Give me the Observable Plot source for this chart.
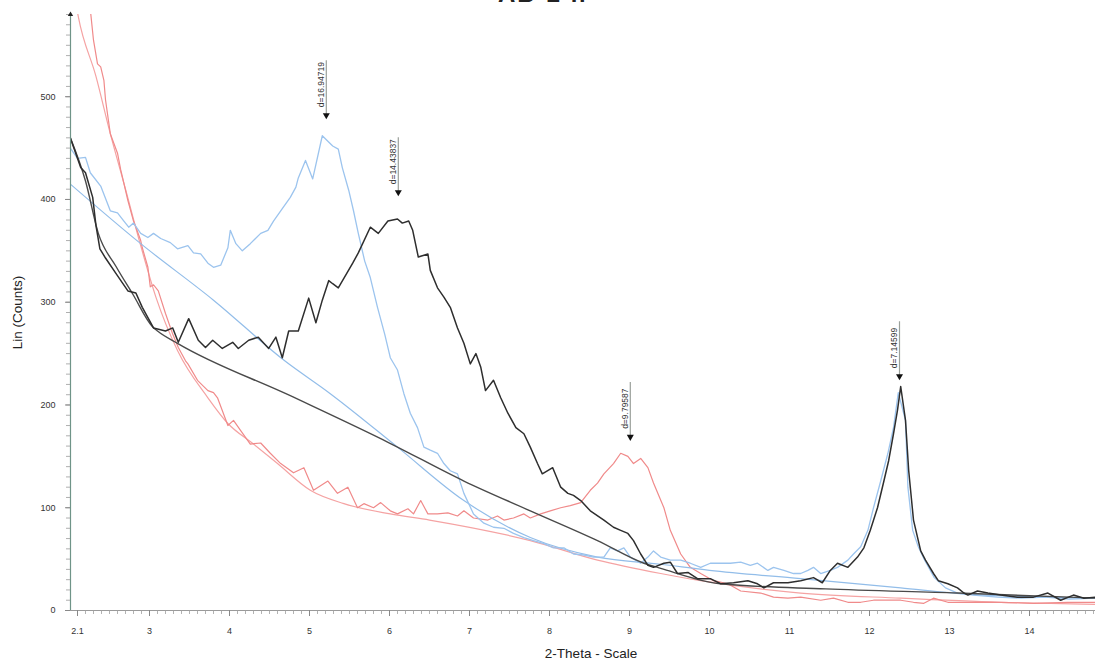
<!DOCTYPE html>
<html><head><meta charset="utf-8">
<script src="https://cdn.jsdelivr.net/npm/d3@7"></script>
<script src="https://cdn.jsdelivr.net/npm/@observablehq/plot@0.6"></script>
<style>
body{margin:0;background:#fff;overflow:hidden;}
#wrap{position:relative;width:1095px;height:666px;}
#title{position:absolute;top:-17px;left:498px;font:bold 24px "Liberation Sans",Arial,sans-serif;letter-spacing:2px;color:#222;line-height:22px;white-space:nowrap;}
</style></head>
<body><div id="wrap"><div id="title">AB-2 h</div><div id="chart"></div></div>
<script>
const title = "AB-2 h";
const xLabel = "2-Theta - Scale";
const yLabel = "Lin (Counts)";
const xTickLabels = [2.1,3,4,5,6,7,8,9,10,11,12,13,14];
const yTickLabels = [0,100,200,300,400,500];

const blackScan = [[2.01,460],[2.14,431],[2.2,426],[2.29,402],[2.33,375],[2.38,352],[2.45,343],[2.58,328],[2.73,311],[2.83,309],[2.91,295],[3.05,275],[3.2,272],[3.29,275],[3.36,261],[3.49,284],[3.61,263],[3.7,256],[3.79,263],[3.91,255],[4.04,261],[4.11,255],[4.24,263],[4.36,266],[4.49,255],[4.58,266],[4.66,246],[4.74,272],[4.86,272],[4.99,304],[5.08,280],[5.16,302],[5.24,321],[5.29,318],[5.36,314],[5.54,338],[5.61,348],[5.76,373],[5.86,367],[5.98,379],[6.1,381],[6.16,377],[6.24,379],[6.29,370],[6.36,344],[6.48,347],[6.51,331],[6.6,314],[6.68,305],[6.76,295],[6.85,275],[6.93,260],[7.01,240],[7.08,250],[7.14,237],[7.2,214],[7.3,224],[7.39,207],[7.48,192],[7.58,178],[7.68,172],[7.76,159],[7.85,143],[7.91,133],[8.04,139],[8.14,120],[8.23,114],[8.3,112],[8.39,107],[8.51,97],[8.68,88],[8.8,81],[8.89,78],[8.98,75],[9.05,68],[9.14,55],[9.23,44],[9.3,42],[9.43,46],[9.51,47],[9.6,36],[9.73,37],[9.85,31],[10.01,31],[10.14,26],[10.3,27],[10.48,29],[10.6,26],[10.68,22],[10.8,27],[10.98,27],[11.14,29],[11.3,32],[11.41,27],[11.51,39],[11.6,46],[11.73,42],[11.85,52],[11.93,61],[12.01,78],[12.1,100],[12.18,126],[12.24,146],[12.3,172],[12.35,195],[12.39,218],[12.45,185],[12.49,136],[12.55,88],[12.64,58],[12.7,49],[12.8,36],[12.86,29],[12.98,26],[13.1,22],[13.18,17],[13.23,15],[13.35,19],[13.48,17],[13.64,15],[13.85,13],[14.05,13],[14.23,17],[14.39,10],[14.55,15],[14.68,12],[14.83,13]];

const blackBackground = [[2.01,460],[2.2,418],[2.36,367],[2.58,335],[2.79,308],[3.04,276],[3.1,272],[3.35,260],[4.76,209],[6.0,163],[6.93,126],[7.76,97],[8.6,68],[9.18,46],[9.39,41],[10.14,26],[11.45,21],[13.1,17],[14.83,12]];

const blueScan = [[2.01,450],[2.1,440],[2.2,441],[2.26,426],[2.39,413],[2.51,389],[2.6,387],[2.68,379],[2.74,373],[2.8,377],[2.89,367],[2.98,363],[3.05,367],[3.14,362],[3.26,358],[3.35,352],[3.48,355],[3.55,348],[3.64,347],[3.73,338],[3.8,334],[3.89,336],[3.98,353],[4.01,370],[4.08,357],[4.16,350],[4.26,357],[4.39,367],[4.48,370],[4.55,379],[4.66,391],[4.76,402],[4.83,412],[4.86,421],[4.95,438],[5.04,420],[5.16,462],[5.29,452],[5.36,449],[5.41,431],[5.49,409],[5.55,389],[5.61,367],[5.69,340],[5.76,324],[5.85,295],[5.94,269],[6.01,246],[6.1,234],[6.18,211],[6.26,192],[6.35,178],[6.43,159],[6.51,156],[6.6,153],[6.68,143],[6.76,136],[6.85,133],[6.93,114],[7.05,94],[7.18,85],[7.3,81],[7.43,80],[7.55,75],[7.68,71],[7.8,68],[7.93,65],[8.05,61],[8.18,61],[8.3,55],[8.43,54],[8.55,52],[8.68,52],[8.76,61],[8.85,58],[8.93,61],[9.01,52],[9.14,46],[9.23,52],[9.3,58],[9.39,52],[9.51,49],[9.64,49],[9.76,46],[9.89,42],[10.01,46],[10.14,46],[10.26,46],[10.39,47],[10.51,44],[10.6,46],[10.73,39],[10.8,42],[10.93,39],[11.05,36],[11.14,36],[11.23,39],[11.3,42],[11.39,36],[11.51,39],[11.6,42],[11.73,49],[11.8,55],[11.89,62],[11.98,78],[12.05,100],[12.14,126],[12.23,153],[12.3,178],[12.36,212],[12.45,185],[12.48,120],[12.54,78],[12.61,62],[12.69,49],[12.81,32],[12.95,22],[13.1,17],[13.3,15],[13.6,13],[13.9,12],[14.2,13],[14.5,11],[14.83,12]];

const blueBackground = [[2.01,415],[2.89,357],[3.8,302],[4.69,243],[5.26,211],[6.1,159],[6.93,107],[7.76,71],[8.6,52],[9.39,45],[10.0,39],[11.14,31],[12.39,22],[13.23,16],[14.83,12]];

const redScan = [[2.24,600],[2.3,555],[2.35,532],[2.39,529],[2.43,516],[2.45,497],[2.51,464],[2.6,445],[2.64,429],[2.73,399],[2.8,379],[2.83,373],[2.89,360],[2.91,353],[2.98,334],[3.01,315],[3.05,317],[3.11,311],[3.2,289],[3.29,269],[3.36,256],[3.45,243],[3.48,240],[3.6,224],[3.73,214],[3.8,212],[3.85,207],[3.98,180],[4.05,185],[4.14,175],[4.26,162],[4.39,163],[4.51,153],[4.64,143],[4.8,134],[4.93,139],[5.05,117],[5.23,126],[5.35,114],[5.48,120],[5.6,100],[5.68,104],[5.8,100],[5.89,105],[6.01,97],[6.1,94],[6.23,99],[6.3,94],[6.39,107],[6.48,94],[6.6,94],[6.73,95],[6.85,92],[6.93,97],[7.05,90],[7.23,88],[7.35,92],[7.43,88],[7.55,90],[7.68,94],[7.76,90],[7.89,94],[8.01,97],[8.14,100],[8.26,102],[8.39,105],[8.51,117],[8.6,124],[8.68,133],[8.8,143],[8.89,153],[8.98,150],[9.05,143],[9.14,148],[9.23,139],[9.3,124],[9.43,100],[9.51,78],[9.64,55],[9.76,42],[9.89,36],[10.05,29],[10.23,26],[10.39,19],[10.64,17],[10.8,13],[10.98,12],[11.14,13],[11.39,10],[11.55,12],[11.73,8],[11.89,8],[12.05,10],[12.23,10],[12.39,10],[12.55,8],[12.68,7],[12.8,12],[12.98,8],[13.23,8],[13.64,8],[14.05,7],[14.48,8],[14.83,8]];

const redBackground = [[2.06,600],[2.11,578],[2.33,520],[2.51,464],[2.7,410],[2.89,355],[3.08,305],[3.35,253],[3.73,207],[3.98,182],[4.3,162],[4.6,143],[5.01,117],[5.43,104],[6.01,94],[6.5,88],[7.76,68],[8.6,49],[9.39,36],[9.89,29],[11.14,17],[12.39,12],[13.64,8],[14.83,6]];

const peakAngles = [5.21, 6.11, 9.01, 12.375];
const peakLabels = ["d=16.94719", "d=14.43837", "d=9.79587", "d=7.14599"];
const peakMarkerCounts = [481, 406, 168, 227];

const xDomain = [2.0125, 14.825];
const yDomain = [0, 580];

const peaks = peakAngles.map((x, i) => ({x, label: peakLabels[i], y: peakMarkerCounts[i]}));
const toRows = a => a.map(([x, y]) => ({x, y}));
const xMinor = d3.range(21, 149).map(d => d / 10);
const yMinor = d3.range(0, 581, 10);

const chart = Plot.plot({
  width: 1095, height: 666,
  marginLeft: 70, marginRight: 0, marginTop: 14, marginBottom: 56,
  x: {type: "linear", domain: xDomain, axis: null},
  y: {type: "linear", domain: yDomain, axis: null},
  style: {fontFamily: "'Liberation Sans', Arial, sans-serif", background: "#fff"},
  marks: [
    Plot.line(toRows(redBackground), {x: "x", y: "y", stroke: "#f5a3a3", strokeWidth: 1.2, curve: "monotone-x", clip: true}),
    Plot.line(toRows(redScan), {x: "x", y: "y", stroke: "#f08a8a", strokeWidth: 1.2, clip: true}),
    Plot.line(toRows(blueBackground), {x: "x", y: "y", stroke: "#92bde9", strokeWidth: 1.2, curve: "monotone-x", clip: true}),
    Plot.line(toRows(blueScan), {x: "x", y: "y", stroke: "#9cc4ee", strokeWidth: 1.3, clip: true}),
    Plot.line(toRows(blackBackground), {x: "x", y: "y", stroke: "#4a4a4a", strokeWidth: 1.4, curve: "monotone-x", clip: true}),
    Plot.line(toRows(blackScan), {x: "x", y: "y", stroke: "#2e2e2e", strokeWidth: 1.5, clip: true}),
    // axes
    Plot.ruleY([0], {stroke: "#9a9a9a", strokeWidth: 1.2}),
    Plot.ruleX([xDomain[0]], {stroke: "#6f9488", strokeWidth: 1.2}),
    Plot.axisX(xMinor, {tickSize: 4, tickFormat: () => "", stroke: "#a0a0a0", strokeWidth: 0.8, label: null}),
    Plot.axisX(xTickLabels, {tickSize: 6, tickPadding: 11, fontSize: 9, fill: "#333", stroke: "#888", tickFormat: d => String(d), label: null}),
    Plot.axisY(yMinor, {tickSize: 4, tickFormat: () => "", stroke: "#9a9a9a", strokeWidth: 0.8, label: null}),
    Plot.axisY(yTickLabels, {tickSize: 5, tickPadding: 10, fontSize: 9, fill: "#333", stroke: "#888", tickFormat: d => String(d), label: null}),
    Plot.dot([yDomain[1]], {x: () => xDomain[0], y: d => d, symbol: "triangle", r: 2, fill: "#222", stroke: null}),
    Plot.text([yLabel], {frameAnchor: "left", textAnchor: "middle", dx: -53, rotate: -90, fontSize: 13.5, fill: "#222"}),
    Plot.text([xLabel], {frameAnchor: "bottom", dy: 47, dx: 8, fontSize: 13.5, fill: "#222"}),
    // peak markers
    Plot.ruleX(peaks, {x: "x", y1: "y", y2: d => d.y + 54, stroke: "#9aa09a", strokeWidth: 1.2}),
    Plot.dot(peaks, {x: "x", y: "y", symbol: "triangle", rotate: 180, r: 2.6, fill: "#111", stroke: null, dy: -1}),
    Plot.text(peaks, {x: "x", y: "y", text: "label", rotate: -90, textAnchor: "start", dx: -5, dy: -9, fontSize: 8.5, fill: "#333"})
  ]
});
document.getElementById("chart").appendChild(chart);
</script>
</body></html>
